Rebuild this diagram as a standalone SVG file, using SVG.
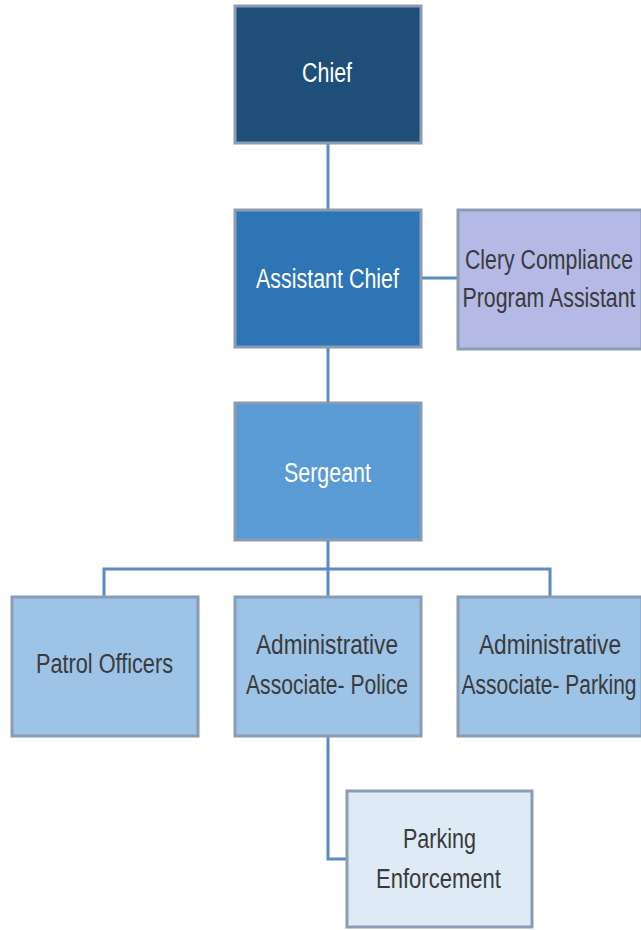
<svg xmlns="http://www.w3.org/2000/svg" width="641" height="930" viewBox="0 0 641 930">
<style>
.box{stroke:#8A9BB4;stroke-width:3}
.conn{fill:none;stroke:#5A8AC0;stroke-width:3}
text{font-family:"Liberation Sans Narrow","Liberation Sans",Arial,sans-serif;font-size:27px;text-anchor:middle}
.w{fill:#FFFFFF}
.d{fill:#3A3A3A}
</style>
<rect width="641" height="930" fill="#FFFFFF"/>
<g id="connectors">
<path class="conn" d="M328 143V210"/>
<path class="conn" d="M421 278H458"/>
<path class="conn" d="M328 347V403"/>
<path class="conn" d="M328 540V597M104 597V569H550V597"/>
<path class="conn" d="M328 736V859H347"/>
</g>
<g id="chief">
<rect class="box" x="235" y="6" width="186" height="137" fill="#1F4E79"/>
<text class="w" x="327" y="82" textLength="50" lengthAdjust="spacingAndGlyphs">Chief</text>
</g>
<g id="assistant-chief">
<rect class="box" x="235" y="210" width="186" height="137" fill="#2E75B6"/>
<text class="w" x="327.5" y="288" textLength="143" lengthAdjust="spacingAndGlyphs">Assistant Chief</text>
</g>
<g id="clery">
<rect class="box" x="458" y="210" width="184" height="139" fill="#B4B9E6"/>
<text class="d" x="549" y="269" textLength="168" lengthAdjust="spacingAndGlyphs">Clery Compliance</text>
<text class="d" x="549" y="307" textLength="173" lengthAdjust="spacingAndGlyphs">Program Assistant</text>
</g>
<g id="sergeant">
<rect class="box" x="235" y="403" width="186" height="137" fill="#5B9BD5"/>
<text class="w" x="327.5" y="482" textLength="87" lengthAdjust="spacingAndGlyphs">Sergeant</text>
</g>
<g id="patrol">
<rect class="box" x="12" y="597" width="186" height="139" fill="#9DC3E6"/>
<text class="d" x="104.5" y="673" textLength="137" lengthAdjust="spacingAndGlyphs">Patrol Officers</text>
</g>
<g id="admin-police">
<rect class="box" x="235" y="597" width="186" height="139" fill="#9DC3E6"/>
<text class="d" x="327" y="654" textLength="142" lengthAdjust="spacingAndGlyphs">Administrative</text>
<text class="d" x="327" y="694" textLength="162" lengthAdjust="spacingAndGlyphs">Associate- Police</text>
</g>
<g id="admin-parking">
<rect class="box" x="458" y="597" width="184" height="139" fill="#9DC3E6"/>
<text class="d" x="550" y="654" textLength="142" lengthAdjust="spacingAndGlyphs">Administrative</text>
<text class="d" x="549" y="694" textLength="175" lengthAdjust="spacingAndGlyphs">Associate- Parking</text>
</g>
<g id="parking-enforcement">
<rect class="box" x="347" y="791" width="185" height="136" fill="#DEEBF7"/>
<text class="d" x="439.5" y="848" textLength="73" lengthAdjust="spacingAndGlyphs">Parking</text>
<text class="d" x="438.5" y="888" textLength="125" lengthAdjust="spacingAndGlyphs">Enforcement</text>
</g>
</svg>
